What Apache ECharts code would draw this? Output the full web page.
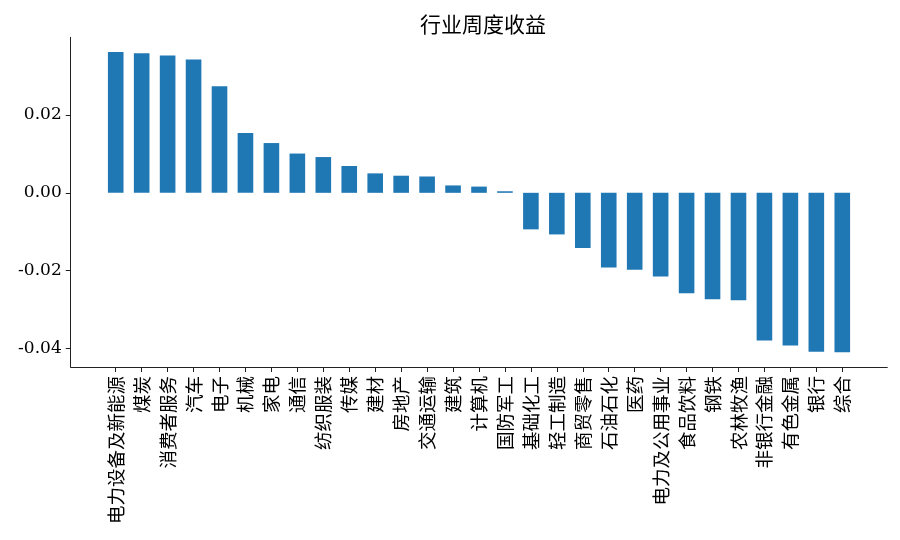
<!DOCTYPE html>
<html>
<head>
<meta charset="utf-8">
<script src="https://cdn.jsdelivr.net/npm/echarts@6/dist/echarts.min.js"></script>
<style>
html,body{margin:0;padding:0;background:#fff;}
#main{width:900px;height:540px;}
</style>
</head>
<body>
<div id="main"></div>
<script>
const categories = ['电力设备及新能源','煤炭','消费者服务','汽车','电子','机械','家电','通信','纺织服装','传媒','建材','房地产','交通运输','建筑','计算机','国防军工','基础化工','轻工制造','商贸零售','石油石化','医药','电力及公用事业','食品饮料','钢铁','农林牧渔','非银行金融','有色金属','银行','综合'];
const values = [0.0362,0.0359,0.0353,0.0343,0.0274,0.0154,0.0128,0.0101,0.0092,0.0069,0.0050,0.0044,0.0042,0.0019,0.0016,0.0004,-0.0094,-0.0107,-0.0142,-0.0192,-0.0198,-0.0215,-0.0258,-0.0274,-0.0276,-0.0380,-0.0393,-0.0409,-0.0410];
const yTicks = [-0.04,-0.02,0.00,0.02];
const titleText = '行业周度收益';

const chart = echarts.init(document.getElementById('main'));
const idx = categories.map((_, i) => i);
const axisColor = '#222';
chart.setOption({
  animation: false,
  backgroundColor: '#fff',
  title: {
    text: titleText, left: 478, top: 9, textAlign: 'center',
    textStyle: {fontFamily: 'Noto Sans CJK SC', fontSize: 21, fontWeight: 'normal', color: '#000'}
  },
  grid: {left: 70.7, right: 12.7, top: 37.3, bottom: 173},
  xAxis: {
    type: 'value', min: -1.735, max: 29.735,
    splitLine: {show: false},
    axisLine: {show: true, onZero: false, lineStyle: {color: axisColor, width: 1}},
    axisTick: {show: true, customValues: idx, length: 5, lineStyle: {color: axisColor}},
    axisLabel: {
      customValues: idx, rotate: 90, margin: 9,
      formatter: v => categories[Math.round(v)],
      fontFamily: 'Noto Sans CJK SC', fontSize: 18.5, color: '#000'
    }
  },
  yAxis: {
    type: 'value', min: -0.0448, max: 0.0400,
    splitLine: {show: false},
    axisLine: {show: true, onZero: false, lineStyle: {color: axisColor, width: 1}},
    axisTick: {show: true, customValues: yTicks, length: 5, lineStyle: {color: axisColor}},
    axisLabel: {
      customValues: yTicks, margin: 9,
      formatter: v => v.toFixed(2),
      fontFamily: 'DejaVu Serif', fontSize: 17, color: '#000'
    }
  },
  series: [{
    type: 'bar',
    data: values.map((v, i) => [i, v]),
    barWidth: 15.6,
    itemStyle: {color: '#1f77b4'}
  }]
});
</script>
</body>
</html>
